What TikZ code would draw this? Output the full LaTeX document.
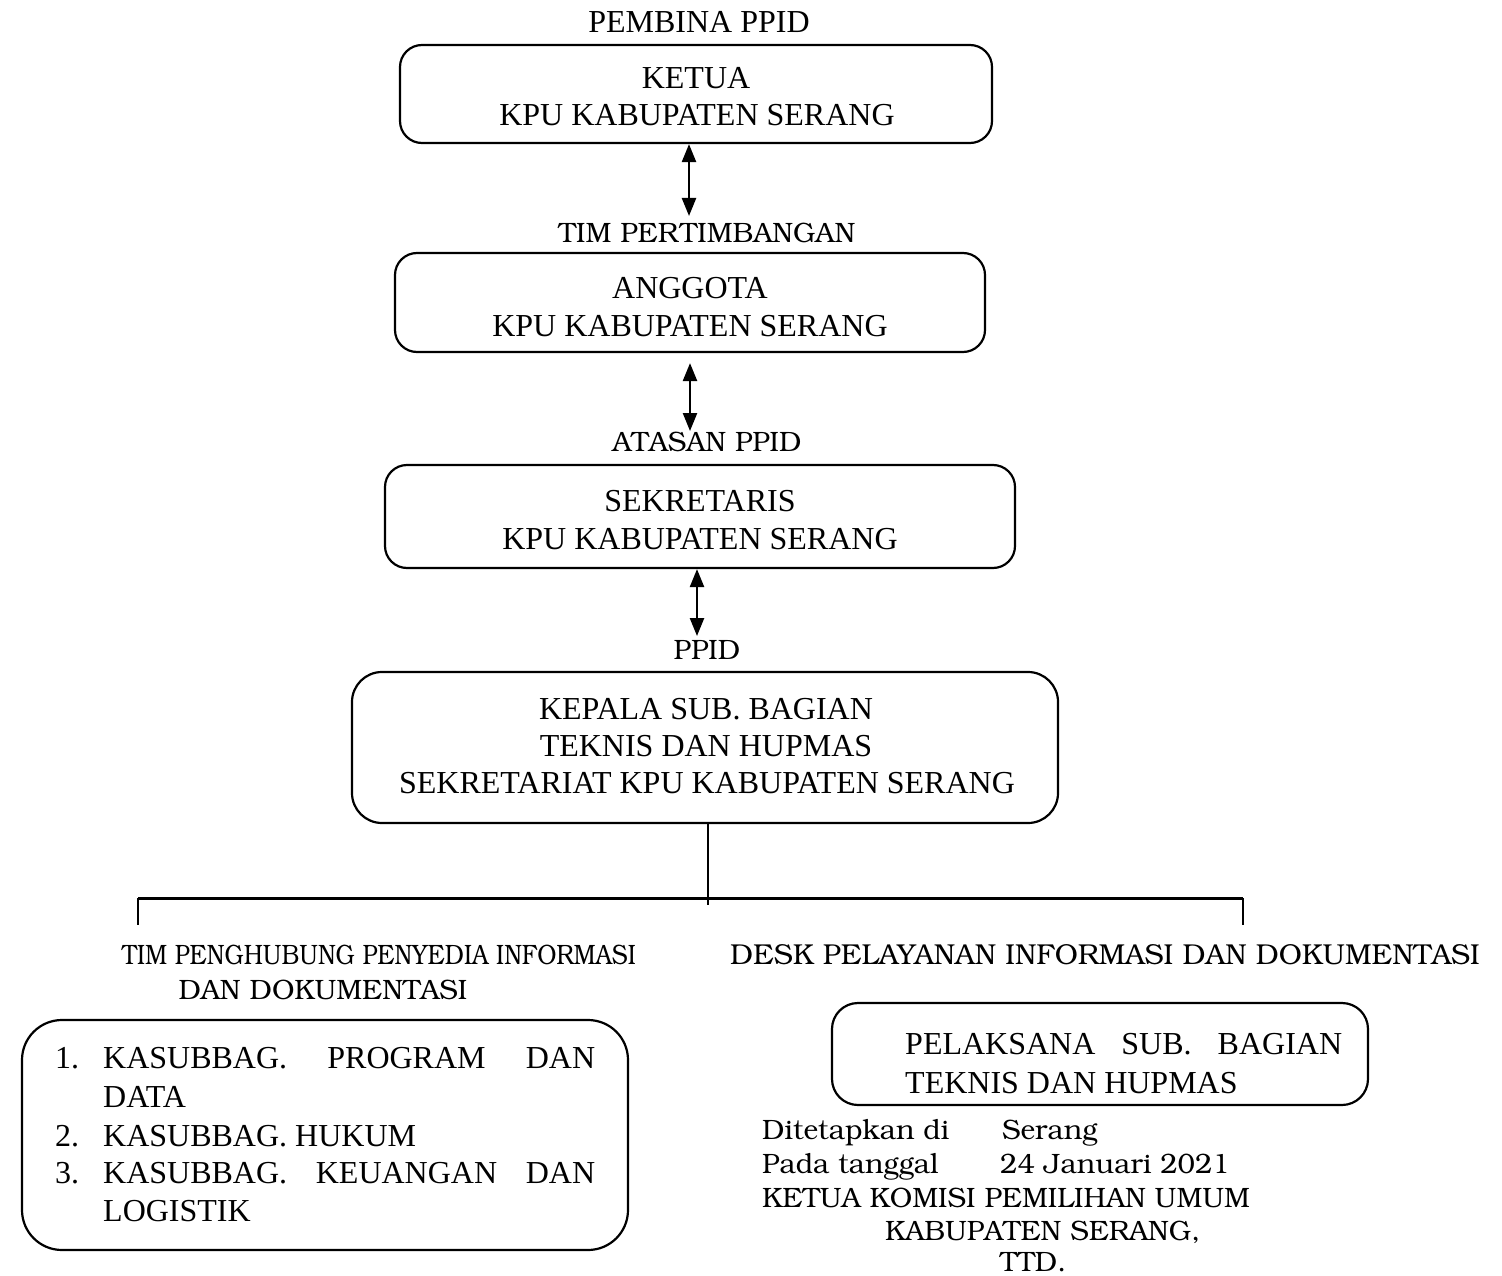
\documentclass[tikz,border=0pt]{standalone}
\usepackage[T1]{fontenc}
\usepackage{fontspec}
\setmainfont{Liberation Serif}
\usetikzlibrary{arrows.meta}
\newcommand\bkfont{\fontencoding{T1}\fontfamily{pbk}\selectfont}
\begin{document}
\begin{tikzpicture}[x=1pt,y=-1pt,
  box/.style={draw, line width=2.2pt, rounded corners=22pt, inner sep=0pt},
  tnr/.style={font=\fontsize{32}{37}\selectfont, inner sep=0pt},
  bk/.style={font=\bkfont\fontsize{28}{34}\selectfont, inner sep=0pt},
  biarrow/.style={{Triangle[width=14pt,length=18pt]}-{Triangle[width=14pt,length=18pt]}, line width=2.4pt},
  thinline/.style={line width=1.3pt},
  thickline/.style={line width=3pt}]
\useasboundingbox (0,0) rectangle (1502,1276);

% boxes
\node[box, minimum width=592pt, minimum height=98pt] (b1) at (696,94) {};
\node[box, minimum width=590pt, minimum height=99pt] (b2) at (690,302.5) {};
\node[box, minimum width=630pt, minimum height=103pt] (b3) at (700,516.5) {};
\node[box, rounded corners=30pt, minimum width=706pt, minimum height=151pt] (b4) at (705,747.5) {};
\node[box, rounded corners=40pt, minimum width=606pt, minimum height=230pt] (b5) at (325,1135) {};
\node[box, rounded corners=26pt, minimum width=536pt, minimum height=102pt] (b6) at (1100,1054) {};

% texts top
\node[tnr, anchor=base] (t0) at (699,33) {PEMBINA PPID};
\node[tnr, anchor=base] (t1a) at (696,89) {KETUA};
\node[tnr, anchor=base] (t1b) at (697,126) {KPU KABUPATEN SERANG};
\node[bk, anchor=base] (l1) at (707,243) {TIM PERTIMBANGAN};
\node[tnr, anchor=base] (t2a) at (690,298) {ANGGOTA};
\node[tnr, anchor=base] (t2b) at (690,336) {KPU KABUPATEN SERANG};
\node[bk, anchor=base] (l2) at (707,451) {ATASAN PPID};
\node[tnr, anchor=base] (t3a) at (700,511) {SEKRETARIS};
\node[tnr, anchor=base] (t3b) at (700,549) {KPU KABUPATEN SERANG};
\node[bk, anchor=base] (l3) at (707,659) {PPID};
\node[tnr, anchor=base] (t4a) at (706,719) {KEPALA SUB. BAGIAN};
\node[tnr, anchor=base] (t4b) at (706,756) {TEKNIS DAN HUPMAS};
\node[tnr, anchor=base] (t4c) at (707,793) {SEKRETARIAT KPU KABUPATEN SERANG};

% arrows
\coordinate (a1e) at (689,216);
\coordinate (a2e) at (690,431);
\coordinate (a3e) at (697,636);
\draw[biarrow] (b1.south -| a1e) -- (a1e);
\draw[biarrow] ([yshift=-10pt]b2.south -| a2e) -- (a2e);
\draw[biarrow] (b3.south -| a3e) -- (a3e);

% tree
\coordinate (hub) at (708,898);
\coordinate (lt) at (138,898);
\coordinate (rt) at (1243,898);
\draw[thinline] (b4.south -| hub) -- ([yshift=-7pt]hub);
\draw[thickline] (lt) -- (rt);
\draw[thinline] (lt) -- ++(0,27);
\draw[thinline] (rt) -- ++(0,27);

% branch labels
\node[bk, anchor=base west] (l4a) at (122,964) {\scalebox{0.855}[1]{TIM PENGHUBUNG PENYEDIA INFORMASI}};
\node[bk, anchor=base] (l4b) at (323,999) {DAN DOKUMENTASI};
\node[bk, font=\bkfont\fontsize{28.8}{34}\selectfont, anchor=base west] (l5) at (730,964) {DESK PELAYANAN INFORMASI DAN DOKUMENTASI};

% left box list
\node[tnr, anchor=base west] (n1) at (55,1068) {1.};
\node[tnr, anchor=base west] (i1a) at (103,1068) {\makebox[492pt][s]{KASUBBAG. PROGRAM DAN}};
\node[tnr, anchor=base west] (i1b) at (103,1107) {DATA};
\node[tnr, anchor=base west] (n2) at (55,1146) {2.};
\node[tnr, anchor=base west] (i2) at (103,1146) {KASUBBAG. HUKUM};
\node[tnr, anchor=base west] (n3) at (55,1183) {3.};
\node[tnr, anchor=base west] (i3a) at (103,1183) {\makebox[492pt][s]{KASUBBAG. KEUANGAN DAN}};
\node[tnr, anchor=base west] (i3b) at (103,1221) {LOGISTIK};

% right box
\node[tnr, anchor=base west] (r1) at (905,1054) {\makebox[437pt][s]{PELAKSANA SUB. BAGIAN}};
\node[tnr, anchor=base west] (r2) at (905,1093) {TEKNIS DAN HUPMAS};

% signature block
\node[bk, anchor=base west] (s1) at (762,1139) {\makebox[240pt][l]{Ditetapkan di}Serang};
\node[bk, anchor=base west] (s2) at (762,1173) {\makebox[238pt][l]{Pada tanggal}24 Januari 2021};
\node[bk, anchor=base west] (s3) at (762,1207) {KETUA KOMISI PEMILIHAN UMUM};
\node[bk, anchor=base west] (s4) at (885,1240) {KABUPATEN SERANG,};
\node[bk, anchor=base west] (s5) at (1000,1271) {TTD.};
\end{tikzpicture}
\end{document}
